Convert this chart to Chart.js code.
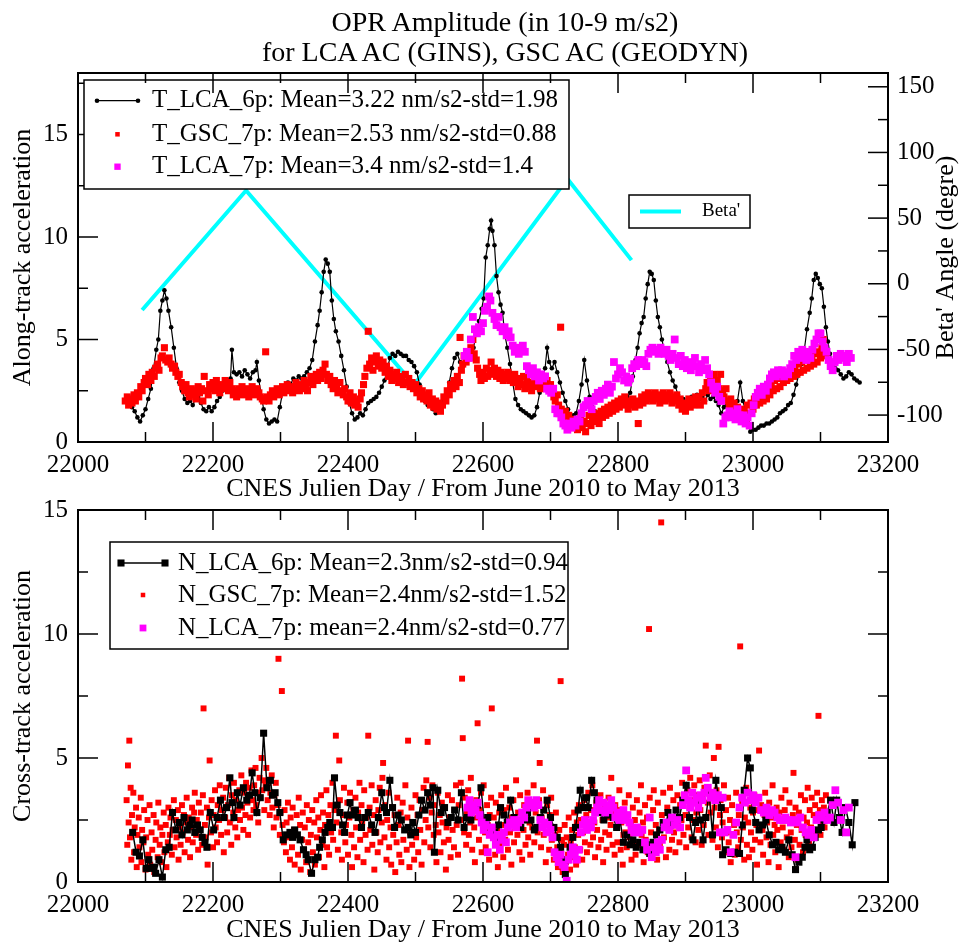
<!DOCTYPE html>
<html>
<head>
<meta charset="utf-8">
<script src="https://cdn.jsdelivr.net/npm/chart.js@4.4.1/dist/chart.umd.min.js"></script>
<style>
 html, body { margin: 0; padding: 0; background: #fff; }
 body { width: 960px; height: 946px; position: relative; overflow: hidden; }
 canvas { position: absolute; left: 0; }
 #topChart { top: 0; }
 #bottomChart { top: 480px; }
 #title { position: absolute; left: 50px; top: 7px; width: 910px; text-align: center;
  font: 28px/30px "Liberation Serif", "DejaVu Serif", serif; color: #000; }
</style>
</head>
<body>
<canvas id="topChart" width="960" height="505"></canvas>
<canvas id="bottomChart" width="960" height="466"></canvas>
<div id="title">OPR Amplitude (in 10-9 m/s2)<br>for LCA AC (GINS), GSC AC (GEODYN)</div>
<script>
// tick labels
var xTicks = [22000, 22200, 22400, 22600, 22800, 23000, 23200];
var alongTicks = [0, 5, 10, 15];
var betaTicks = [-100, -50, 0, 50, 100, 150];
var crossTicks = [0, 5, 10, 15];

// along-track (top panel), [CNES day, value]
var tLca6p = [[22075,1.9],[22080,1.7],[22084,1.5],[22088,1.2],[22092,1.0],[22096,1.3],[22100,1.6],[22104,2.1],[22108,2.6],[22112,3.6],[22116,4.5],[22119,5.0],[22122,6.4],[22125,6.9],[22128,7.4],[22131,7.0],[22134,6.4],[22138,5.6],[22142,4.6],[22146,3.6],[22150,2.9],[22154,2.5],[22158,2.1],[22162,1.9],[22166,2.0],[22170,1.8],[22174,2.1],[22178,2.2],[22182,1.9],[22186,1.6],[22190,1.5],[22194,1.7],[22198,1.5],[22202,1.7],[22206,2.0],[22210,2.2],[22214,2.5],[22218,2.8],[22222,3.0],[22226,3.1],[22228,4.5],[22231,3.4],[22235,3.3],[22239,3.4],[22243,3.2],[22247,3.5],[22251,3.3],[22255,3.1],[22259,3.4],[22263,3.5],[22265,3.9],[22268,3.0],[22272,2.2],[22275,1.6],[22279,1.1],[22283,0.9],[22287,1.0],[22291,1.1],[22295,1.0],[22299,1.7],[22303,2.4],[22307,2.7],[22311,2.9],[22315,2.8],[22319,3.1],[22323,3.0],[22327,3.2],[22331,3.1],[22335,3.2],[22339,3.4],[22343,3.6],[22347,4.0],[22351,4.9],[22355,5.7],[22358,6.4],[22361,7.3],[22364,8.3],[22367,8.9],[22370,8.7],[22373,8.3],[22376,6.9],[22379,6.0],[22382,5.4],[22386,4.9],[22390,4.2],[22394,3.5],[22398,2.7],[22402,1.9],[22406,1.4],[22410,1.1],[22414,1.2],[22418,1.4],[22422,1.3],[22426,1.6],[22430,1.9],[22434,2.0],[22438,2.1],[22442,2.2],[22446,2.4],[22450,2.7],[22454,3.0],[22458,3.5],[22462,4.1],[22466,4.3],[22470,4.2],[22474,4.4],[22478,4.3],[22482,4.2],[22486,4.2],[22490,4.0],[22494,3.9],[22498,3.7],[22502,3.4],[22506,2.8],[22510,2.3],[22514,2.0],[22518,1.8],[22522,1.9],[22526,1.6],[22530,1.4],[22534,1.6],[22538,1.8],[22542,2.1],[22546,2.3],[22550,2.9],[22554,3.6],[22558,4.1],[22562,4.3],[22566,3.9],[22570,3.7],[22574,4.0],[22578,4.2],[22582,4.4],[22586,4.6],[22590,5.3],[22594,5.9],[22598,6.5],[22601,7.0],[22604,9.0],[22607,9.6],[22610,10.4],[22612,10.8],[22614,10.3],[22617,9.6],[22620,8.1],[22623,7.3],[22626,6.7],[22629,6.3],[22632,5.3],[22636,4.6],[22640,3.8],[22644,2.9],[22648,2.1],[22652,1.8],[22656,1.6],[22660,1.5],[22664,1.4],[22668,1.3],[22672,1.2],[22676,1.3],[22680,1.7],[22684,2.4],[22688,3.1],[22692,3.6],[22695,4.6],[22698,3.9],[22702,3.6],[22706,3.9],[22710,3.4],[22714,2.9],[22718,2.4],[22722,2.0],[22726,1.6],[22730,1.2],[22734,1.3],[22738,1.4],[22742,2.0],[22746,2.8],[22750,4.0],[22754,3.0],[22758,2.2],[22762,1.7],[22766,1.5],[22770,1.4],[22774,1.3],[22778,1.5],[22782,1.6],[22786,1.7],[22790,1.6],[22794,1.7],[22798,1.6],[22802,1.8],[22806,2.0],[22810,1.9],[22814,2.2],[22818,2.4],[22822,3.2],[22826,4.0],[22829,4.6],[22832,5.3],[22835,5.8],[22838,6.1],[22841,7.0],[22844,7.7],[22847,8.3],[22850,8.2],[22853,7.9],[22856,6.9],[22859,6.1],[22862,5.6],[22865,5.0],[22869,4.4],[22873,3.9],[22877,3.4],[22881,3.0],[22885,2.7],[22889,2.3],[22893,2.0],[22897,2.1],[22901,1.9],[22905,2.0],[22909,2.2],[22913,2.1],[22917,2.3],[22921,2.1],[22925,2.2],[22929,2.0],[22933,2.3],[22937,2.1],[22941,2.2],[22945,2.0],[22949,1.8],[22953,1.4],[22957,1.7],[22961,1.9],[22965,1.7],[22969,1.8],[22973,1.9],[22977,2.0],[22981,2.9],[22985,2.0],[22989,1.5],[22993,1.1],[22996,0.5],[23000,0.6],[23004,0.6],[23008,0.7],[23012,0.8],[23016,0.8],[23020,0.9],[23024,0.9],[23028,1.0],[23032,1.1],[23036,1.2],[23040,1.4],[23044,1.5],[23048,1.6],[23052,1.8],[23056,1.9],[23060,2.3],[23064,2.8],[23068,3.3],[23072,3.8],[23076,4.5],[23080,5.5],[23084,6.3],[23087,7.0],[23090,7.9],[23093,8.2],[23096,8.0],[23099,7.7],[23102,7.5],[23105,6.6],[23108,5.6],[23111,4.9],[23114,4.3],[23118,3.9],[23122,3.6],[23126,3.5],[23130,3.3],[23134,3.1],[23138,3.2],[23142,3.4],[23146,3.3],[23150,3.1],[23154,3.0],[23158,2.9]];

var tGsc7p = [[22070,2.0],[22073,2.2],[22075,1.8],[22078,2.1],[22080,1.9],[22083,2.3],[22085,2.0],[22088,2.4],[22090,2.2],[22093,2.7],[22095,2.5],[22098,2.9],[22100,3.1],[22103,2.8],[22105,3.3],[22108,3.0],[22110,3.4],[22113,3.2],[22115,3.6],[22118,3.8],[22120,3.5],[22123,4.1],[22125,4.2],[22128,4.6],[22130,4.0],[22133,3.9],[22135,4.1],[22138,3.8],[22140,3.6],[22143,3.7],[22145,3.4],[22148,3.2],[22150,3.3],[22153,2.9],[22155,2.7],[22158,2.5],[22160,2.8],[22163,2.4],[22165,2.2],[22168,2.6],[22170,2.3],[22173,2.5],[22175,2.1],[22178,2.7],[22180,2.4],[22183,2.6],[22185,2.0],[22187,3.2],[22190,2.5],[22193,2.3],[22195,2.8],[22198,2.6],[22200,2.9],[22203,2.5],[22205,3.0],[22208,2.7],[22210,2.4],[22213,2.8],[22215,2.6],[22218,3.0],[22220,2.7],[22223,2.5],[22225,2.9],[22228,2.6],[22230,2.3],[22233,2.5],[22235,2.2],[22238,2.6],[22240,2.4],[22243,2.7],[22245,2.3],[22248,2.5],[22250,2.6],[22253,2.2],[22255,2.4],[22258,2.7],[22260,2.5],[22263,2.3],[22265,2.6],[22268,2.4],[22270,2.2],[22273,2.1],[22275,2.0],[22278,4.4],[22280,2.2],[22283,2.0],[22285,2.3],[22288,2.5],[22290,2.2],[22293,2.4],[22295,2.6],[22298,2.3],[22300,2.5],[22303,2.7],[22305,2.4],[22308,2.6],[22310,2.8],[22313,2.5],[22315,2.7],[22318,2.4],[22320,2.6],[22323,2.9],[22325,2.7],[22328,2.5],[22330,2.8],[22333,2.6],[22335,3.0],[22338,2.7],[22340,2.5],[22343,2.9],[22345,3.2],[22348,2.8],[22350,3.0],[22353,3.3],[22355,3.0],[22358,3.4],[22360,3.1],[22363,3.5],[22366,3.8],[22368,3.3],[22370,3.0],[22373,3.2],[22375,2.8],[22378,2.6],[22380,3.0],[22383,2.7],[22385,2.4],[22388,2.9],[22390,2.5],[22393,2.3],[22395,2.6],[22398,2.2],[22400,2.0],[22403,2.4],[22405,1.9],[22408,2.2],[22410,1.8],[22413,2.0],[22415,1.7],[22418,2.1],[22420,2.4],[22423,2.8],[22425,3.2],[22428,3.6],[22430,5.4],[22432,3.8],[22435,4.1],[22437,3.5],[22440,3.9],[22442,4.2],[22445,3.7],[22447,4.0],[22450,3.6],[22452,3.9],[22455,3.4],[22457,3.7],[22460,3.2],[22462,3.5],[22465,3.0],[22467,3.3],[22470,3.1],[22472,3.4],[22475,2.9],[22477,3.2],[22480,3.0],[22482,2.8],[22485,3.3],[22487,2.9],[22490,3.1],[22492,2.7],[22495,2.9],[22497,2.6],[22500,2.8],[22502,2.4],[22505,2.6],[22507,2.2],[22510,2.5],[22512,2.1],[22515,2.3],[22517,2.0],[22520,2.4],[22522,1.8],[22525,2.1],[22527,1.7],[22530,2.0],[22532,1.6],[22535,1.9],[22537,1.5],[22540,1.8],[22542,2.2],[22545,2.0],[22547,2.5],[22550,2.3],[22552,2.8],[22555,2.6],[22557,3.0],[22560,2.7],[22562,3.2],[22565,2.9],[22566,5.1],[22568,3.5],[22570,3.8],[22572,4.2],[22575,3.9],[22577,4.4],[22580,4.1],[22582,4.6],[22585,5.0],[22587,4.3],[22590,4.0],[22592,3.6],[22595,3.3],[22597,3.0],[22600,3.4],[22602,3.1],[22605,3.6],[22607,3.2],[22610,3.5],[22612,3.9],[22615,3.3],[22617,3.6],[22620,3.2],[22622,3.5],[22625,3.1],[22627,3.4],[22630,3.0],[22632,3.3],[22635,3.1],[22637,3.4],[22640,3.0],[22642,3.2],[22645,2.9],[22647,3.3],[22650,3.0],[22652,2.7],[22655,3.1],[22657,2.8],[22660,3.2],[22662,2.6],[22665,3.0],[22667,2.7],[22670,2.9],[22672,2.5],[22675,2.8],[22677,3.1],[22680,2.7],[22682,3.0],[22685,2.6],[22687,2.9],[22690,3.2],[22692,2.8],[22695,3.0],[22697,2.6],[22700,2.8],[22702,2.5],[22705,2.2],[22707,2.0],[22710,2.3],[22712,1.8],[22715,5.6],[22716,1.6],[22718,1.4],[22720,1.2],[22722,1.5],[22725,1.0],[22727,1.3],[22730,0.8],[22732,1.1],[22735,0.7],[22737,1.0],[22740,0.6],[22742,0.9],[22745,1.2],[22747,0.7],[22750,1.0],[22752,0.5],[22755,0.9],[22757,1.3],[22760,0.8],[22762,1.1],[22765,1.4],[22767,1.0],[22770,1.3],[22772,0.9],[22775,1.5],[22777,1.2],[22780,1.6],[22782,1.3],[22785,1.7],[22787,1.4],[22790,1.8],[22792,1.5],[22795,1.9],[22797,1.6],[22800,2.0],[22802,1.7],[22805,2.1],[22807,1.8],[22810,2.2],[22812,1.9],[22815,1.6],[22817,2.0],[22820,1.8],[22822,2.1],[22825,1.7],[22828,2.0],[22830,0.9],[22832,1.8],[22835,2.2],[22837,1.9],[22840,2.3],[22842,2.0],[22845,2.4],[22847,2.1],[22850,2.3],[22852,2.0],[22855,2.4],[22857,2.1],[22860,2.3],[22862,1.9],[22865,2.2],[22867,2.4],[22870,2.0],[22872,2.3],[22875,2.1],[22877,2.4],[22880,1.9],[22882,2.2],[22885,2.0],[22887,2.3],[22890,1.8],[22892,2.1],[22895,1.6],[22897,1.9],[22900,1.5],[22902,1.8],[22905,2.1],[22907,1.7],[22910,2.0],[22912,1.8],[22915,2.2],[22917,1.9],[22920,2.2],[22922,1.8],[22925,2.4],[22927,2.0],[22930,2.6],[22932,2.9],[22935,2.5],[22937,3.1],[22940,2.7],[22942,3.3],[22945,2.8],[22947,3.0],[22950,2.6],[22952,3.3],[22955,2.5],[22957,2.2],[22960,2.6],[22962,2.0],[22965,1.8],[22967,2.1],[22970,1.6],[22972,1.9],[22975,1.4],[22977,1.7],[22980,1.3],[22982,1.6],[22985,1.2],[22987,1.5],[22990,1.1],[22992,1.8],[22995,1.4],[22997,1.9],[23000,1.6],[23002,2.1],[23005,1.8],[23007,2.2],[23010,1.9],[23012,2.3],[23015,2.0],[23017,2.4],[23020,2.1],[23022,2.5],[23025,2.3],[23027,2.8],[23030,2.5],[23032,3.0],[23035,2.6],[23037,3.1],[23040,2.7],[23042,3.2],[23045,2.9],[23047,3.3],[23050,3.0],[23052,3.4],[23055,3.1],[23057,3.5],[23060,3.2],[23062,3.6],[23065,3.3],[23067,3.8],[23070,3.4],[23072,3.9],[23075,3.5],[23077,4.0],[23080,3.6],[23082,4.1],[23085,3.7],[23087,4.2],[23090,3.8],[23092,4.3],[23095,3.9],[23097,4.4],[23100,4.1],[23102,4.6],[23104,5.0],[23106,4.4],[23108,4.2]];

var tLca7p = [[22573,4.2],[22576,4.4],[22579,4.1],[22582,5.0],[22585,6.1],[22588,5.5],[22591,5.3],[22594,5.6],[22597,5.4],[22600,5.8],[22603,6.4],[22606,6.6],[22609,7.1],[22611,6.9],[22614,6.3],[22617,6.0],[22620,5.7],[22623,6.1],[22626,5.6],[22629,5.4],[22632,5.6],[22635,5.2],[22638,5.4],[22641,5.1],[22644,4.7],[22647,4.4],[22650,4.6],[22653,4.3],[22656,4.5],[22659,4.7],[22662,4.4],[22665,3.7],[22668,3.5],[22671,3.3],[22674,3.6],[22677,3.2],[22680,3.4],[22683,3.0],[22686,3.3],[22689,3.1],[22692,3.2],[22695,2.6],[22698,2.5],[22701,2.4],[22704,2.6],[22707,1.6],[22710,1.4],[22713,1.4],[22716,1.2],[22719,0.9],[22722,0.8],[22725,0.6],[22728,0.9],[22731,0.7],[22734,1.0],[22737,0.8],[22740,1.1],[22743,1.0],[22746,1.4],[22749,1.7],[22752,1.8],[22755,2.0],[22758,1.9],[22761,1.6],[22764,2.0],[22767,2.2],[22770,2.4],[22773,2.1],[22776,2.5],[22779,2.3],[22782,2.6],[22785,2.8],[22788,2.4],[22791,2.7],[22794,3.9],[22797,3.1],[22800,3.3],[22803,3.6],[22806,3.4],[22809,3.0],[22812,3.2],[22815,2.9],[22818,3.1],[22821,3.6],[22824,3.8],[22827,3.7],[22830,4.0],[22833,3.8],[22836,4.0],[22839,3.9],[22842,3.7],[22845,4.3],[22848,4.5],[22851,4.6],[22854,4.4],[22857,4.5],[22860,4.3],[22863,4.6],[22866,4.4],[22869,4.3],[22872,4.5],[22875,4.2],[22878,4.0],[22881,4.3],[22884,5.0],[22887,4.1],[22890,3.8],[22893,4.2],[22896,3.7],[22899,4.0],[22902,3.6],[22905,3.9],[22908,3.5],[22911,3.8],[22914,4.1],[22917,3.7],[22920,3.4],[22923,3.8],[22926,3.5],[22929,4.0],[22932,3.6],[22935,3.3],[22938,2.9],[22941,2.6],[22944,2.4],[22947,2.7],[22950,2.2],[22953,2.0],[22956,0.9],[22959,1.2],[22962,1.3],[22965,1.5],[22968,1.2],[22971,1.4],[22974,1.1],[22977,1.6],[22980,1.3],[22983,1.0],[22986,1.3],[22989,0.9],[22992,1.2],[22995,0.8],[22998,1.4],[23001,1.8],[23004,2.2],[23007,2.4],[23010,2.6],[23013,2.3],[23016,2.7],[23019,2.5],[23022,2.8],[23025,3.1],[23028,3.3],[23031,3.4],[23034,3.2],[23037,3.5],[23040,3.3],[23043,3.5],[23046,3.2],[23049,3.4],[23052,3.3],[23055,3.6],[23058,3.8],[23061,4.2],[23064,4.0],[23067,4.4],[23070,4.1],[23073,4.5],[23076,4.2],[23079,4.0],[23082,4.4],[23085,4.1],[23088,4.5],[23091,4.8],[23094,5.0],[23097,5.3],[23100,5.3],[23103,4.9],[23106,4.6],[23109,4.4],[23112,4.0],[23115,3.7],[23118,3.5],[23121,3.9],[23124,4.2],[23127,4.0],[23130,4.3],[23133,4.1],[23136,4.2],[23139,3.9],[23142,4.3],[23145,4.1]];

var betaAngle = [[22095,-20],[22249,71],[22498,-77],[22725,80],[22820,18]];

// cross-track (bottom panel)
var nLca6p = [[22081,2.0],[22086,1.2],[22091,1.05],[22096,1.7],[22101,0.55],[22105,0.9],[22108,0.55],[22112,0.6],[22115,0.35],[22120,0.9],[22125,0.2],[22130,1.3],[22135,1.4],[22140,2.8],[22145,2.1],[22150,2.4],[22154,1.9],[22157,2.6],[22162,2.1],[22166,2.3],[22169,2.5],[22173,2.0],[22177,2.3],[22181,2.1],[22184,1.8],[22188,1.6],[22191,1.4],[22196,2.8],[22201,2.1],[22206,2.6],[22211,3.3],[22216,2.6],[22220,3.0],[22225,4.2],[22228,3.2],[22231,2.6],[22236,3.6],[22240,3.1],[22245,3.8],[22250,3.3],[22254,3.5],[22258,4.4],[22262,3.6],[22265,2.8],[22270,3.4],[22275,6.0],[22280,3.8],[22285,4.1],[22288,3.5],[22292,3.6],[22296,3.2],[22299,2.8],[22304,1.7],[22309,1.9],[22314,2.0],[22318,1.8],[22321,2.1],[22325,1.9],[22329,1.7],[22334,1.3],[22338,1.1],[22341,0.9],[22346,0.35],[22351,0.9],[22355,1.0],[22358,1.4],[22362,1.7],[22366,2.0],[22370,2.2],[22373,2.4],[22377,2.2],[22380,4.2],[22384,3.1],[22388,2.8],[22392,2.3],[22395,2.0],[22399,2.7],[22403,3.2],[22407,2.7],[22411,2.9],[22415,2.6],[22420,2.2],[22425,2.6],[22430,2.8],[22435,2.3],[22440,2.0],[22445,2.6],[22450,3.6],[22454,3.0],[22457,2.8],[22462,4.1],[22466,3.0],[22469,2.2],[22474,2.7],[22479,2.5],[22484,2.1],[22489,2.2],[22493,1.9],[22496,2.4],[22500,2.0],[22505,2.7],[22509,3.3],[22514,2.9],[22518,3.6],[22522,3.1],[22526,3.8],[22528,1.2],[22533,3.7],[22538,2.8],[22543,3.0],[22548,2.4],[22553,2.6],[22558,2.9],[22563,2.5],[22568,3.6],[22572,2.2],[22577,2.6],[22582,2.5],[22587,2.9],[22592,3.1],[22597,3.8],[22602,2.4],[22607,2.6],[22612,2.1],[22616,2.0],[22619,1.7],[22623,2.3],[22626,3.0],[22631,2.7],[22636,2.4],[22641,3.3],[22646,2.6],[22651,2.4],[22656,2.2],[22661,2.5],[22666,2.8],[22671,2.5],[22676,2.1],[22680,2.2],[22685,2.6],[22690,2.9],[22695,3.3],[22700,2.6],[22705,2.2],[22710,1.8],[22715,1.4],[22719,0.9],[22722,0.3],[22726,0.9],[22729,1.4],[22733,1.8],[22737,2.2],[22741,2.9],[22744,3.7],[22748,3.0],[22752,3.4],[22756,3.0],[22761,4.1],[22765,3.6],[22769,3.3],[22774,2.8],[22779,2.5],[22784,2.7],[22788,3.0],[22793,2.6],[22798,2.2],[22803,2.5],[22808,1.6],[22813,1.9],[22818,1.5],[22822,1.7],[22827,1.4],[22832,1.6],[22837,1.3],[22842,1.5],[22847,1.15],[22852,1.6],[22857,1.9],[22862,2.1],[22867,2.4],[22871,2.2],[22874,2.8],[22878,2.3],[22881,2.5],[22886,2.9],[22891,2.6],[22896,3.3],[22901,3.9],[22906,2.6],[22911,1.7],[22915,2.4],[22918,3.2],[22922,2.5],[22926,1.7],[22930,2.6],[22935,3.6],[22940,1.9],[22945,4.1],[22949,3.4],[22953,3.0],[22955,1.1],[22960,1.3],[22967,1.15],[22973,1.2],[22980,1.15],[22984,2.3],[22987,3.7],[22992,5.0],[22996,4.6],[22999,2.9],[23004,2.4],[23009,2.1],[23014,2.3],[23019,2.5],[23024,1.9],[23029,1.5],[23034,1.6],[23038,1.3],[23043,1.4],[23048,1.2],[23053,1.7],[23058,1.1],[23063,0.5],[23068,0.8],[23073,1.0],[23077,1.4],[23080,1.7],[23084,1.3],[23088,1.4],[23092,1.8],[23097,2.1],[23101,2.2],[23105,2.5],[23110,2.8],[23115,3.3],[23120,2.4],[23124,3.3],[23128,2.6],[23132,2.0],[23137,3.0],[23142,2.4],[23147,1.5],[23151,3.2]];

var nGsc7p = [[22072,3.3],[22073,1.5],[22074,4.7],[22075,2.4],[22076,5.7],[22077,1.8],[22078,3.8],[22079,0.9],[22080,2.7],[22082,3.6],[22083,1.2],[22084,2.2],[22086,3.0],[22087,0.6],[22088,1.9],[22090,2.6],[22091,1.4],[22093,3.4],[22094,0.8],[22095,2.1],[22097,1.6],[22098,2.9],[22100,0.5],[22101,1.8],[22103,2.5],[22104,1.1],[22106,3.1],[22107,0.7],[22109,2.0],[22110,1.3],[22112,2.7],[22113,0.4],[22115,1.7],[22116,2.4],[22118,1.0],[22119,3.2],[22121,1.5],[22122,2.2],[22124,0.8],[22125,1.9],[22127,2.8],[22128,1.2],[22130,2.3],[22131,0.6],[22133,1.6],[22134,3.0],[22136,1.9],[22137,2.6],[22139,1.1],[22140,2.1],[22142,3.3],[22143,1.4],[22145,2.5],[22146,1.8],[22148,2.9],[22149,0.9],[22151,2.2],[22152,1.5],[22154,3.1],[22155,2.0],[22157,2.7],[22158,1.2],[22160,2.4],[22161,3.4],[22163,1.7],[22164,2.6],[22166,1.0],[22167,2.2],[22169,3.0],[22170,1.6],[22172,2.8],[22173,3.6],[22175,1.9],[22176,2.5],[22178,1.3],[22179,3.2],[22181,2.1],[22182,2.8],[22184,1.5],[22185,3.5],[22186,7.0],[22188,2.3],[22189,1.8],[22191,3.0],[22192,0.7],[22194,2.6],[22195,4.9],[22197,2.0],[22198,3.3],[22200,1.4],[22201,2.7],[22203,3.7],[22204,2.2],[22206,1.6],[22207,3.1],[22209,2.5],[22210,3.9],[22212,1.9],[22213,2.9],[22215,3.4],[22216,1.2],[22218,2.6],[22219,3.8],[22221,2.0],[22222,3.1],[22224,4.2],[22225,2.4],[22227,1.5],[22228,3.5],[22230,2.8],[22231,4.0],[22233,2.2],[22234,3.3],[22236,1.8],[22237,2.9],[22239,3.7],[22240,2.5],[22242,4.3],[22243,3.0],[22245,2.1],[22246,3.6],[22248,2.7],[22249,4.0],[22251,3.2],[22252,1.9],[22254,3.8],[22255,2.6],[22257,4.5],[22258,3.3],[22260,2.9],[22261,3.9],[22263,4.6],[22264,3.1],[22266,3.6],[22267,2.4],[22269,4.2],[22270,3.4],[22272,5.0],[22273,3.7],[22275,4.1],[22276,2.9],[22278,3.9],[22279,4.6],[22281,3.3],[22282,4.0],[22284,2.7],[22285,3.6],[22287,4.3],[22288,3.0],[22290,2.2],[22291,3.5],[22293,4.0],[22294,2.6],[22296,3.1],[22297,9.0],[22299,1.9],[22300,2.8],[22302,7.7],[22303,2.3],[22305,1.6],[22306,2.9],[22308,1.2],[22309,2.4],[22311,3.2],[22312,1.8],[22314,0.9],[22315,2.6],[22317,1.4],[22318,3.0],[22320,2.1],[22321,0.7],[22323,1.9],[22324,2.7],[22326,1.1],[22327,3.4],[22329,2.3],[22330,0.5],[22332,1.7],[22333,2.8],[22335,1.3],[22336,2.2],[22338,0.8],[22339,3.1],[22341,1.6],[22342,2.5],[22344,0.4],[22345,1.9],[22347,2.9],[22348,1.2],[22350,2.4],[22351,0.7],[22353,3.3],[22354,1.8],[22356,2.6],[22357,1.0],[22359,2.1],[22360,3.5],[22362,1.5],[22363,2.8],[22365,0.6],[22366,2.3],[22368,3.7],[22369,1.4],[22371,2.7],[22372,1.1],[22374,3.1],[22375,2.0],[22377,4.0],[22378,1.7],[22380,2.9],[22382,5.9],[22383,2.4],[22385,1.3],[22387,4.9],[22388,3.3],[22390,2.0],[22391,0.9],[22393,2.7],[22394,3.8],[22396,1.6],[22397,2.3],[22399,3.2],[22400,1.1],[22402,2.6],[22403,3.6],[22405,1.9],[22406,0.6],[22408,2.9],[22409,1.4],[22411,3.4],[22412,2.2],[22414,1.0],[22415,2.8],[22417,4.0],[22418,1.7],[22420,3.1],[22421,2.4],[22423,0.8],[22424,3.7],[22426,1.9],[22427,2.6],[22429,1.3],[22430,5.9],[22432,3.0],[22433,2.1],[22435,3.9],[22436,1.5],[22438,2.7],[22439,0.5],[22441,3.3],[22442,2.0],[22444,1.2],[22445,2.9],[22447,3.8],[22448,1.6],[22450,2.4],[22451,4.2],[22452,4.8],[22454,1.8],[22455,3.1],[22457,0.9],[22458,2.5],[22460,3.6],[22461,1.4],[22463,2.2],[22464,0.7],[22466,3.0],[22467,1.9],[22469,2.7],[22470,0.4],[22472,1.6],[22473,3.4],[22475,2.3],[22476,1.1],[22478,2.8],[22479,0.8],[22481,3.2],[22482,1.7],[22484,2.1],[22485,3.9],[22487,1.3],[22488,2.6],[22489,5.7],[22491,0.6],[22492,2.0],[22494,3.0],[22495,1.5],[22497,2.4],[22498,0.9],[22500,3.5],[22501,1.8],[22503,2.7],[22504,1.2],[22506,3.3],[22507,2.1],[22509,0.7],[22510,2.9],[22512,3.8],[22513,1.6],[22515,2.5],[22516,4.1],[22518,5.65],[22519,2.2],[22521,3.4],[22522,1.4],[22524,2.8],[22525,3.9],[22527,1.9],[22528,3.1],[22530,2.3],[22531,0.8],[22533,3.6],[22534,2.0],[22536,2.7],[22537,1.2],[22539,3.2],[22540,2.4],[22542,1.6],[22543,3.0],[22545,0.5],[22546,2.2],[22548,3.5],[22549,1.7],[22551,2.6],[22552,1.0],[22554,3.3],[22555,2.1],[22557,1.4],[22558,2.9],[22560,3.9],[22561,2.3],[22563,1.1],[22564,3.1],[22566,2.5],[22567,4.0],[22569,8.2],[22570,5.8],[22572,2.0],[22573,3.4],[22575,1.5],[22576,2.8],[22578,3.7],[22579,1.9],[22581,2.4],[22582,4.2],[22584,1.3],[22585,3.0],[22587,2.2],[22588,0.8],[22590,3.3],[22591,2.6],[22592,6.4],[22594,1.7],[22595,2.9],[22597,3.6],[22598,1.2],[22600,2.5],[22601,3.9],[22603,2.0],[22604,1.4],[22606,3.1],[22607,2.3],[22609,0.9],[22610,2.7],[22612,3.4],[22613,7.0],[22615,1.8],[22616,2.6],[22618,1.1],[22619,3.2],[22621,2.1],[22622,0.6],[22624,2.8],[22625,1.5],[22627,3.5],[22628,2.3],[22630,1.0],[22631,2.9],[22633,1.7],[22634,3.8],[22636,2.4],[22637,1.3],[22639,3.0],[22640,2.0],[22642,0.7],[22643,2.6],[22645,3.3],[22646,1.6],[22648,2.2],[22649,4.1],[22651,1.9],[22652,2.8],[22654,1.2],[22655,3.5],[22657,2.5],[22658,0.9],[22660,2.1],[22661,3.1],[22663,1.5],[22664,2.7],[22666,3.6],[22667,1.8],[22669,2.4],[22670,1.1],[22672,3.0],[22673,2.2],[22675,3.9],[22676,1.6],[22678,2.8],[22680,5.7],[22681,2.0],[22683,3.3],[22684,4.8],[22686,1.4],[22687,2.6],[22689,3.7],[22690,1.9],[22692,2.3],[22693,0.8],[22695,3.1],[22696,2.0],[22698,1.3],[22699,2.7],[22701,3.4],[22702,1.7],[22704,2.2],[22705,0.9],[22707,1.9],[22708,2.8],[22710,1.4],[22711,0.6],[22713,2.1],[22714,1.2],[22715,8.1],[22717,1.7],[22718,0.4],[22720,1.5],[22721,2.3],[22723,0.8],[22724,1.8],[22726,1.1],[22727,2.6],[22729,0.5],[22730,1.6],[22732,2.1],[22733,1.0],[22735,2.8],[22736,1.4],[22738,0.7],[22739,2.4],[22741,1.9],[22742,3.1],[22744,1.3],[22745,2.5],[22747,0.9],[22748,2.0],[22750,3.3],[22751,1.6],[22753,2.7],[22754,1.2],[22756,3.6],[22757,2.2],[22759,1.5],[22760,2.9],[22762,3.9],[22763,1.8],[22765,2.4],[22766,1.0],[22768,3.2],[22769,2.1],[22771,1.4],[22772,2.8],[22774,3.5],[22775,1.7],[22777,2.5],[22778,0.8],[22780,3.0],[22781,2.0],[22783,1.3],[22784,2.6],[22786,3.4],[22787,1.9],[22789,2.3],[22790,4.2],[22792,1.5],[22793,2.8],[22795,1.1],[22796,3.1],[22798,2.2],[22799,1.6],[22801,2.9],[22802,3.7],[22804,1.3],[22805,2.4],[22807,0.7],[22808,1.9],[22810,3.2],[22811,2.0],[22813,1.4],[22814,2.7],[22816,3.5],[22817,1.8],[22819,2.3],[22820,0.9],[22822,3.0],[22823,1.6],[22825,2.5],[22826,1.1],[22828,3.3],[22829,2.1],[22831,1.5],[22832,2.8],[22834,3.9],[22835,1.9],[22837,2.4],[22838,0.8],[22840,3.1],[22841,1.7],[22843,2.6],[22844,1.2],[22846,10.2],[22847,3.4],[22849,2.0],[22850,1.4],[22852,2.9],[22853,3.7],[22855,1.6],[22856,2.3],[22858,0.9],[22859,3.2],[22861,2.1],[22862,1.5],[22864,14.5],[22865,2.7],[22867,3.6],[22868,1.8],[22870,2.4],[22871,1.0],[22873,3.0],[22874,2.2],[22876,1.3],[22877,3.8],[22879,2.6],[22880,1.7],[22882,3.3],[22883,2.0],[22885,1.2],[22886,2.9],[22888,3.5],[22889,2.3],[22891,1.6],[22892,3.1],[22894,2.5],[22895,4.0],[22897,1.9],[22898,3.4],[22900,2.7],[22901,1.4],[22903,3.7],[22904,2.2],[22906,3.0],[22907,4.2],[22909,1.8],[22910,3.3],[22912,2.5],[22913,3.9],[22915,1.6],[22916,2.8],[22918,3.5],[22919,2.1],[22921,4.1],[22922,2.9],[22924,1.5],[22925,3.4],[22927,2.3],[22928,3.8],[22930,5.5],[22931,2.6],[22933,3.2],[22934,1.9],[22936,4.3],[22937,2.8],[22939,3.6],[22940,1.7],[22942,5.0],[22943,3.0],[22945,2.2],[22946,3.7],[22948,1.4],[22949,5.45],[22951,2.7],[22952,3.3],[22954,1.8],[22955,2.4],[22957,3.9],[22958,1.2],[22960,2.9],[22961,2.0],[22963,3.4],[22964,1.6],[22966,2.5],[22967,0.8],[22969,3.1],[22970,1.9],[22972,2.3],[22973,1.1],[22975,3.6],[22976,2.0],[22978,1.4],[22979,2.7],[22981,9.5],[22982,1.7],[22984,3.2],[22985,2.2],[22987,0.9],[22988,2.6],[22990,3.8],[22991,1.5],[22993,2.4],[22994,1.0],[22996,3.0],[22997,2.0],[22999,1.3],[23000,2.8],[23002,3.5],[23003,1.7],[23005,2.3],[23006,0.7],[23008,2.9],[23009,5.3],[23011,1.6],[23012,3.1],[23014,2.1],[23015,1.1],[23017,2.7],[23018,3.6],[23020,1.8],[23021,2.4],[23023,0.8],[23024,3.2],[23026,1.5],[23027,2.6],[23029,3.9],[23030,1.9],[23032,2.3],[23033,1.2],[23035,3.0],[23036,2.1],[23038,0.6],[23039,2.8],[23041,1.6],[23042,3.4],[23044,2.2],[23045,1.3],[23047,2.9],[23048,3.7],[23050,1.8],[23051,2.5],[23053,1.0],[23054,3.2],[23056,2.0],[23057,1.4],[23059,2.7],[23060,4.4],[23062,1.7],[23063,3.0],[23065,2.3],[23066,0.9],[23068,2.8],[23069,1.5],[23071,3.5],[23072,2.1],[23074,1.2],[23075,2.6],[23077,3.3],[23078,1.9],[23080,2.4],[23081,3.8],[23083,1.6],[23084,2.9],[23086,2.2],[23087,3.4],[23089,1.8],[23090,2.7],[23092,3.1],[23093,2.0],[23095,3.6],[23096,2.5],[23097,6.7],[23099,2.9],[23100,1.9],[23102,3.3],[23103,2.4],[23105,3.0],[23106,2.2],[23108,3.5],[23110,2.6]];

var nLca7p = [[22577,3.0],[22580,3.3],[22583,2.8],[22586,3.1],[22589,2.9],[22592,3.2],[22595,2.7],[22598,2.4],[22601,2.1],[22604,2.3],[22607,1.2],[22610,1.9],[22613,2.2],[22616,1.8],[22619,1.5],[22622,1.9],[22625,1.3],[22628,1.7],[22631,2.0],[22634,1.6],[22637,2.2],[22640,2.4],[22643,2.3],[22646,2.5],[22649,2.2],[22652,2.4],[22655,2.5],[22658,2.8],[22661,2.6],[22664,3.0],[22667,3.3],[22670,3.1],[22673,3.2],[22676,3.0],[22679,3.3],[22682,3.1],[22685,2.5],[22688,2.2],[22691,2.4],[22694,2.0],[22697,2.3],[22700,2.1],[22703,1.8],[22706,1.2],[22709,1.0],[22712,0.8],[22715,1.1],[22718,0.7],[22721,0.6],[22724,0.05],[22727,0.9],[22730,1.1],[22733,1.4],[22736,1.2],[22739,0.9],[22742,1.3],[22745,2.0],[22748,2.3],[22751,2.5],[22754,2.1],[22757,2.4],[22760,2.2],[22763,2.5],[22766,2.8],[22769,3.0],[22772,3.3],[22775,2.9],[22778,3.2],[22781,2.8],[22784,3.1],[22787,2.9],[22790,3.3],[22793,3.0],[22796,2.6],[22799,2.8],[22802,2.5],[22805,2.7],[22808,2.9],[22811,2.5],[22814,2.7],[22817,2.4],[22820,2.1],[22824,2.0],[22828,2.2],[22832,2.0],[22836,2.1],[22840,1.6],[22843,1.3],[22847,2.6],[22850,1.0],[22853,1.4],[22856,1.2],[22859,1.6],[22862,1.3],[22865,1.7],[22869,2.2],[22872,2.4],[22876,2.1],[22880,2.6],[22884,2.3],[22888,2.5],[22892,2.2],[22896,3.1],[22899,3.5],[22901,4.5],[22904,3.3],[22907,3.0],[22910,3.6],[22913,3.2],[22916,3.4],[22919,3.0],[22922,3.5],[22925,3.3],[22928,3.6],[22930,4.2],[22933,3.8],[22937,3.4],[22940,3.6],[22944,3.3],[22948,3.5],[22951,2.0],[22955,3.4],[22958,2.0],[22962,2.1],[22967,1.2],[22971,1.9],[22975,2.4],[22980,3.0],[22984,3.4],[22988,3.2],[22992,3.6],[22996,3.3],[23000,3.5],[23004,3.2],[23008,3.4],[23012,2.9],[23016,2.8],[23020,3.0],[23024,2.7],[23028,2.9],[23032,2.8],[23036,2.6],[23040,2.5],[23044,2.5],[23048,2.6],[23052,2.5],[23056,2.4],[23060,2.5],[23063,1.0],[23066,2.4],[23070,2.6],[23074,2.2],[23078,2.0],[23082,1.9],[23086,2.1],[23090,1.8],[23094,2.5],[23098,2.7],[23102,2.6],[23106,2.8],[23110,2.5],[23114,2.6],[23118,3.1],[23122,3.7],[23126,3.2],[23130,2.5],[23134,2.9],[23138,2.0],[23142,3.0]];

var serif = '"Liberation Serif", "DejaVu Serif", serif';
Chart.defaults.font.family = serif;
Chart.defaults.color = "#000";

function toPoints(pairs) {
 return pairs.map(function (p) {
  return { x: p[0], y: p[1] };
 });
}

function fixedTicks(list) {
 return function (scale) {
  scale.ticks = list.map(function (v) {
   return { value: v };
  });
 };
}

function fixedWidth(w) {
 return function (scale) { scale.width = w; };
}

function fixedHeight(h) {
 return function (scale) { scale.height = h; };
}

function plainLabel(v) {
 return String(v);
}

function drawMarker(ctx, style, r, color, x, y) {
 ctx.fillStyle = color;
 ctx.beginPath();
 if (style === "rect") {
  var s = r * Math.SQRT1_2;
  ctx.rect(x - s, y - s, 2 * s, 2 * s);
 } else {
  ctx.arc(x, y, r, 0, Math.PI * 2);
 }
 ctx.fill();
}

function seg(ctx, x1, y1, x2, y2) {
 ctx.beginPath();
 ctx.moveTo(x1, y1);
 ctx.lineTo(x2, y2);
 ctx.stroke();
}

function drawLegend(chart, lg) {
 var ctx = chart.ctx;
 ctx.fillStyle = "#fff";
 ctx.fillRect(lg.box[0], lg.box[1], lg.box[2], lg.box[3]);
 ctx.strokeStyle = "#000";
 ctx.lineWidth = 1.5;
 ctx.strokeRect(lg.box[0], lg.box[1], lg.box[2], lg.box[3]);
 ctx.font = lg.fontSize + "px " + serif;
 ctx.textAlign = "left";
 ctx.textBaseline = "middle";
 lg.items.forEach(function (idx, i) {
  var ds = chart.data.datasets[idx];
  var y = lg.rows[i];
  var r = lg.markerRadius ? lg.markerRadius[i] : ds.pointRadius;
  if (ds.showLine) {
   ctx.strokeStyle = ds.borderColor;
   ctx.lineWidth = ds.borderWidth;
   seg(ctx, lg.sample[0], y, lg.sample[1], y);
   if (ds.pointRadius > 0) {
    drawMarker(ctx, ds.pointStyle, r, ds.backgroundColor, lg.sample[0], y);
    drawMarker(ctx, ds.pointStyle, r, ds.backgroundColor, lg.sample[1], y);
   }
  } else {
   drawMarker(ctx, ds.pointStyle, r, ds.backgroundColor, (lg.sample[0] + lg.sample[1]) / 2, y);
  }
  ctx.fillStyle = "#000";
  ctx.fillText(ds.label, lg.textX, y);
 });
}

// grace-style frame: inward ticks on all four sides, legends inside the plot
var framePlugin = {
 id: "frame",
 afterDraw: function (chart, args, opts) {
  var ctx = chart.ctx, a = chart.chartArea;
  var xs = chart.scales.x, yl = chart.scales.y;
  var yr = chart.scales[opts.right] || yl;
  var v, p;
  ctx.save();
  ctx.strokeStyle = "#000";
  ctx.lineWidth = 1.5;
  for (v = xs.min; v <= xs.max; v += 100) {
   p = xs.getPixelForValue(v);
   seg(ctx, p, a.bottom, p, a.bottom - ((v - xs.min) % 200 === 0 ? 20 : 10));
  }
  for (v = 0; v <= yl.max; v += 2.5) {
   p = yl.getPixelForValue(v);
   seg(ctx, a.left, p, a.left + (v % 5 === 0 ? 20 : 10), p);
  }
  for (v = opts.rightFrom; v <= yr.max; v += opts.rightMinor) {
   p = yr.getPixelForValue(v);
   seg(ctx, a.right, p, a.right - (v % opts.rightMajor === 0 ? 20 : 10), p);
  }
  opts.legends.forEach(function (lg) { drawLegend(chart, lg); });
  ctx.strokeStyle = "#000";
  ctx.lineWidth = 1.5;
  for (v = xs.min; v <= xs.max; v += 100) {
   p = xs.getPixelForValue(v);
   seg(ctx, p, a.top, p, a.top + ((v - xs.min) % 200 === 0 ? 20 : 10));
  }
  ctx.lineWidth = 2;
  ctx.strokeRect(a.left, a.top, a.right - a.left, a.bottom - a.top);
  if (opts.rightTitle) {
   ctx.translate(opts.rightTitle.x, (a.top + a.bottom) / 2);
   ctx.rotate(-Math.PI / 2);
   ctx.fillStyle = "#000";
   ctx.font = "26px " + serif;
   ctx.textAlign = "center";
   ctx.textBaseline = "middle";
   ctx.fillText(opts.rightTitle.text, 0, 0);
  }
  ctx.restore();
 },
};

function xScale(height) {
 return {
  type: "linear",
  position: "bottom",
  min: 22000,
  max: 23200,
  afterBuildTicks: fixedTicks(xTicks),
  afterFit: fixedHeight(height),
  grid: { display: false, drawTicks: false },
  border: { display: false },
  ticks: { padding: 8, font: { size: 25 }, maxRotation: 0, autoSkip: false, callback: plainLabel },
  title: {
   display: true,
   text: "CNES Julien Day / From June 2010 to May 2013",
   font: { size: 26 },
   padding: 0,
  },
 };
}

function yScale(max, ticks, title) {
 return {
  type: "linear",
  position: "left",
  min: 0,
  max: max,
  afterBuildTicks: fixedTicks(ticks),
  afterFit: fixedWidth(78),
  grid: { display: false, drawTicks: false },
  border: { display: false },
  ticks: { padding: 10, font: { size: 25 }, callback: plainLabel },
  title: { display: true, text: title, font: { size: 26 }, padding: { top: 8, bottom: 0 } },
 };
}

new Chart(document.getElementById("topChart"), {
 type: "scatter",
 data: {
  datasets: [
   {
    label: "T_LCA_6p: Mean=3.22 nm/s2-std=1.98",
    data: toPoints(tLca6p),
    showLine: true,
    borderColor: "#000000",
    backgroundColor: "#000000",
    borderWidth: 1.2,
    pointStyle: "circle",
    pointRadius: 2.3,
    pointBorderWidth: 0,
    yAxisID: "y",
    order: 3,
   },
   {
    label: "T_GSC_7p: Mean=2.53 nm/s2-std=0.88",
    data: toPoints(tGsc7p),
    showLine: false,
    borderColor: "#ff0000",
    backgroundColor: "#ff0000",
    pointStyle: "rect",
    pointRadius: 5,
    pointBorderWidth: 0,
    yAxisID: "y",
    order: 2,
   },
   {
    label: "T_LCA_7p: Mean=3.4 nm/s2-std=1.4",
    data: toPoints(tLca7p),
    showLine: false,
    borderColor: "#ff00ff",
    backgroundColor: "#ff00ff",
    pointStyle: "rect",
    pointRadius: 5.5,
    pointBorderWidth: 0,
    yAxisID: "y",
    order: 1,
   },
   {
    label: "Beta'",
    data: toPoints(betaAngle),
    showLine: true,
    borderColor: "#00ffff",
    backgroundColor: "#00ffff",
    borderWidth: 4,
    pointRadius: 0,
    yAxisID: "y2",
    order: 4,
   },
  ],
 },
 options: {
  responsive: false,
  animation: false,
  events: [],
  layout: { padding: { top: 73, left: 0, right: 0, bottom: 0 } },
  plugins: {
   legend: { display: false },
   tooltip: { enabled: false },
   frame: {
    right: "y2",
    rightFrom: -100,
    rightMinor: 25,
    rightMajor: 50,
    rightTitle: { x: 946, text: "Beta' Angle (degre)" },
    legends: [
     { box: [84, 80, 485, 109], rows: [100.7, 134.3, 166.7], sample: [97, 138], textX: 152, fontSize: 25, items: [0, 1, 2], markerRadius: [2.3, 3.2, 4.5] },
     { box: [629, 195, 121, 33], rows: [211.5], sample: [640, 681], textX: 702, fontSize: 19, items: [3] },
    ],
   },
  },
  scales: {
   x: xScale(63),
   y: yScale(18, alongTicks, "Along-track acceleration"),
   y2: {
    type: "linear",
    position: "right",
    min: -120.5,
    max: 160.5,
    afterBuildTicks: fixedTicks(betaTicks),
    afterFit: fixedWidth(72),
    grid: { display: false, drawTicks: false },
    border: { display: false },
    ticks: { padding: 9, font: { size: 25 }, callback: plainLabel },
   },
  },
 },
 plugins: [framePlugin],
});

new Chart(document.getElementById("bottomChart"), {
 type: "scatter",
 data: {
  datasets: [
   {
    label: "N_LCA_6p: Mean=2.3nm/s2-std=0.94",
    data: toPoints(nLca6p),
    showLine: true,
    borderColor: "#000000",
    backgroundColor: "#000000",
    borderWidth: 1.5,
    pointStyle: "rect",
    pointRadius: 5,
    pointBorderWidth: 0,
    order: 2,
   },
   {
    label: "N_GSC_7p: Mean=2.4nm/s2-std=1.52",
    data: toPoints(nGsc7p),
    showLine: false,
    borderColor: "#ff0000",
    backgroundColor: "#ff0000",
    pointStyle: "rect",
    pointRadius: 4.2,
    pointBorderWidth: 0,
    order: 3,
   },
   {
    label: "N_LCA_7p: mean=2.4nm/s2-std=0.77",
    data: toPoints(nLca7p),
    showLine: false,
    borderColor: "#ff00ff",
    backgroundColor: "#ff00ff",
    pointStyle: "rect",
    pointRadius: 5.5,
    pointBorderWidth: 0,
    order: 1,
   },
  ],
 },
 options: {
  responsive: false,
  animation: false,
  events: [],
  layout: { padding: { top: 30, left: 0, right: 72, bottom: 0 } },
  plugins: {
   legend: { display: false },
   tooltip: { enabled: false },
   frame: {
    right: "y",
    rightFrom: 0,
    rightMinor: 2.5,
    rightMajor: 5,
    legends: [
     { box: [110, 62, 458, 107], rows: [83, 115, 148], sample: [121, 165], textX: 178, fontSize: 25, items: [0, 1, 2], markerRadius: [5, 3.2, 4.8] },
    ],
   },
  },
  scales: {
   x: xScale(64),
   y: yScale(15, crossTicks, "Cross-track acceleration"),
  },
 },
 plugins: [framePlugin],
});
</script>
</body>
</html>
